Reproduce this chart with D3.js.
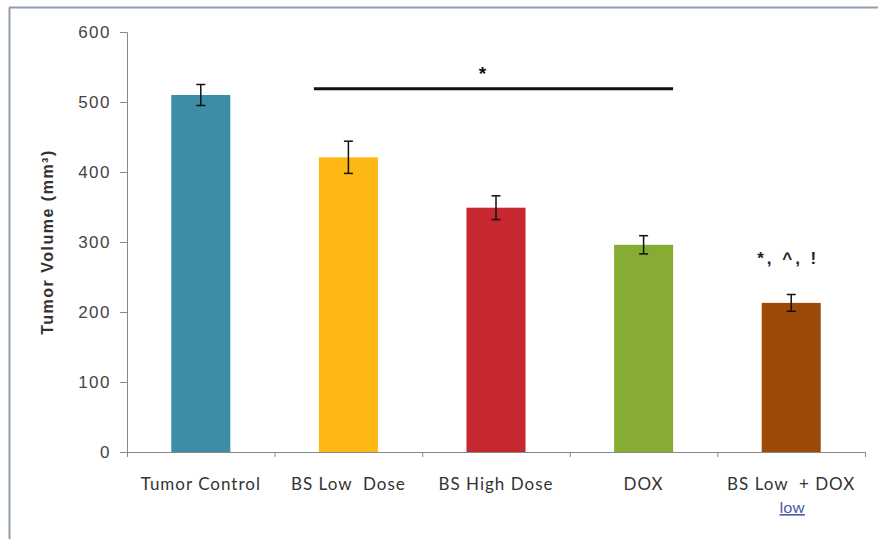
<!DOCTYPE html>
<html>
<head>
<meta charset="utf-8">
<script src="https://cdn.jsdelivr.net/npm/d3@7/dist/d3.min.js"></script>
<style>
  html, body { margin: 0; padding: 0; background: #fff; }
  svg { display: block; }
  text { white-space: pre; }
</style>
</head>
<body>
<div id="chart"></div>
<script>
const categories = ["Tumor Control", "BS Low  Dose", "BS High Dose", "DOX", "BS Low  + DOX"];
const values = [510, 421, 349, 296, 213];
const errors = [15, 23, 17, 13, 12];
const colors = ["#3b8ea5", "#fdb813", "#c5282e", "#86ac33", "#9c4a0a"];
const yTicks = [0, 100, 200, 300, 400, 500, 600];
const sigLineValue = 519;
const sigStarValue = 544;
const lastAnnotation = "*, ^, !";
const lastAnnotationValue = 268;

const W = 878, H = 539;
const svg = d3.select("#chart").append("svg").attr("width", W).attr("height", H);

// frame
svg.append("rect").attr("x", 0).attr("y", 0).attr("width", W).attr("height", H).attr("fill", "#fff");
svg.append("line").attr("x1", 9.5).attr("x2", 9.5).attr("y1", 7.5).attr("y2", H).attr("stroke", "#8f9eab").attr("stroke-width", 2);
svg.append("line").attr("x1", 9).attr("x2", W).attr("y1", 7.5).attr("y2", 7.5).attr("stroke", "#8f9eab").attr("stroke-width", 2);

const x = d3.scaleBand().domain(categories).range([127, 865]).paddingInner(0.6).paddingOuter(0.3);
const y = d3.scaleLinear().domain([0, 600]).range([452, 32]);

// y axis
const yAxis = svg.append("g").attr("transform", "translate(127,0)")
  .call(d3.axisLeft(y).tickValues(yTicks).tickSize(7).tickPadding(9));
yAxis.select(".domain").attr("stroke", "#888");
yAxis.selectAll(".tick line").attr("stroke", "#888");
yAxis.selectAll(".tick text").attr("font-family", "Liberation Sans, Arial, sans-serif")
  .attr("font-size", 17).attr("fill", "#444").style("letter-spacing", "1.5px");

// x axis line + boundary ticks
svg.append("line").attr("x1", 127).attr("x2", 865).attr("y1", y(0) + 0.5).attr("y2", y(0) + 0.5)
  .attr("stroke", "#888");
const step = x.step();
const bounds = d3.range(categories.length + 1).map(i => x(categories[0]) - (step - x.bandwidth()) / 2 + i * step);
svg.selectAll(".xb").data(bounds).enter().append("line")
  .attr("x1", d => d + 0.5).attr("x2", d => d + 0.5)
  .attr("y1", y(0)).attr("y2", y(0) + 5).attr("stroke", "#888");

// bars
svg.selectAll(".bar").data(categories).enter().append("rect")
  .attr("x", d => x(d)).attr("width", x.bandwidth())
  .attr("y", (d, i) => y(values[i])).attr("height", (d, i) => y(0) - y(values[i]))
  .attr("fill", (d, i) => colors[i]);

// error bars
const eb = svg.selectAll(".eb").data(categories).enter().append("g")
  .attr("stroke", "#111").attr("stroke-width", 1.5);
eb.append("line")
  .attr("x1", d => x(d) + x.bandwidth() / 2).attr("x2", d => x(d) + x.bandwidth() / 2)
  .attr("y1", (d, i) => y(values[i] + errors[i])).attr("y2", (d, i) => y(values[i] - errors[i]));
eb.append("line")
  .attr("x1", d => x(d) + x.bandwidth() / 2 - 4.5).attr("x2", d => x(d) + x.bandwidth() / 2 + 4.5)
  .attr("y1", (d, i) => y(values[i] + errors[i])).attr("y2", (d, i) => y(values[i] + errors[i]));
eb.append("line")
  .attr("x1", d => x(d) + x.bandwidth() / 2 - 4.5).attr("x2", d => x(d) + x.bandwidth() / 2 + 4.5)
  .attr("y1", (d, i) => y(values[i] - errors[i])).attr("y2", (d, i) => y(values[i] - errors[i]));

// significance line
const sx1 = x(categories[1]) - 5, sx2 = x(categories[3]) + x.bandwidth();
svg.append("line").attr("x1", sx1).attr("x2", sx2).attr("y1", y(sigLineValue)).attr("y2", y(sigLineValue))
  .attr("stroke", "#111").attr("stroke-width", 3);
svg.append("text").attr("x", (sx1 + sx2) / 2 - 11).attr("y", y(sigStarValue) + 9)
  .attr("text-anchor", "middle").attr("font-family", "Liberation Sans, Arial, sans-serif")
  .attr("font-weight", "bold").attr("font-size", 19).attr("fill", "#111").text("*");

// annotation on last bar
svg.append("text").attr("x", x(categories[4]) + x.bandwidth() / 2 - 3).attr("y", y(lastAnnotationValue))
  .attr("text-anchor", "middle").attr("font-family", "Liberation Sans, Arial, sans-serif")
  .attr("font-weight", "bold").attr("font-size", 17).attr("fill", "#222")
  .style("letter-spacing", "3px").text(lastAnnotation);

// category labels
svg.selectAll(".xl").data(categories).enter().append("text")
  .attr("x", d => x(d) + x.bandwidth() / 2).attr("y", 490)
  .attr("text-anchor", "middle").attr("font-family", "Lato, sans-serif")
  .attr("font-size", 17).attr("fill", "#333").style("letter-spacing", "1px")
  .text(d => d);
svg.append("text").attr("x", x(categories[4]) + x.bandwidth() / 2 + 1).attr("y", 513)
  .attr("text-anchor", "middle").attr("font-family", "Lato, sans-serif")
  .attr("font-size", 16).attr("fill", "#4a5aa8").style("text-decoration", "underline")
  .text("low");

// y title
svg.append("text").attr("transform", "translate(53,242) rotate(-90)")
  .attr("text-anchor", "middle").attr("font-family", "Liberation Sans, Arial, sans-serif")
  .attr("font-weight", "bold").attr("font-size", 16).attr("fill", "#333")
  .style("letter-spacing", "1.5px")
  .text("Tumor Volume (mm³)");
</script>
</body>
</html>
